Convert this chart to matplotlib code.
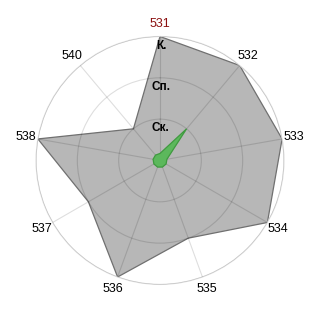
import matplotlib
matplotlib.use('Agg')
import matplotlib.pyplot as plt
import numpy as np

plt.rcParams['font.family'] = ['Liberation Sans', 'DejaVu Sans']

# categories clockwise from the top
labels = ['531', '532', '533', '534', '535', '536', '537', '538', '540']
levels = [1, 2, 3]
level_names = ['Ск.', 'Сп.', 'К.']

grey_vals = [3, 3, 3, 3, 2, 3, 2, 3, 1]
green_vals = [0.17, 1, 0.17, 0.17, 0.17, 0.17, 0.17, 0.17, 0.17]

theta = np.linspace(0, 2 * np.pi, len(labels), endpoint=False)

fig = plt.figure(figsize=(3.2, 3.2), dpi=100)
ax = fig.add_axes([0.1125, 0.111, 0.775, 0.775], projection='polar')
ax.set_theta_zero_location('N')
ax.set_theta_direction(-1)
ax.set_ylim(0, 3)
ax.set_axisbelow(False)

# closed polygons
t = np.append(theta, theta[0])
g = np.append(grey_vals, grey_vals[0])
gr = np.append(green_vals, green_vals[0])
ax.fill(t, g, facecolor='#b7b7b7', edgecolor='#707070', linewidth=0.9, zorder=1)
ax.fill(t, gr, facecolor='#5cb85c', edgecolor='#3f9a3f', linewidth=0.9, zorder=3)

ax.set_xticks(theta)
ax.set_xticklabels([])
ax.set_yticks(levels)
ax.set_yticklabels([])
ax.grid(True, color='black', alpha=0.13, linewidth=0.8)
ax.spines['polar'].set_color('#dddddd')
ax.spines['polar'].set_linewidth(0.8)
ax.tick_params(length=0)

for ang, lab in zip(theta, labels):
    col = '#8b1010' if lab == '531' else 'black'
    ax.text(ang, 3.3, lab, ha='center', va='center', fontsize=9, color=col)

for lv, name in zip(levels, level_names):
    ax.text(0.012, lv - 0.22, name, ha='center', va='center', fontsize=8.5,
            fontweight='bold', color='black', zorder=4)

plt.savefig('out.png', dpi=100)
